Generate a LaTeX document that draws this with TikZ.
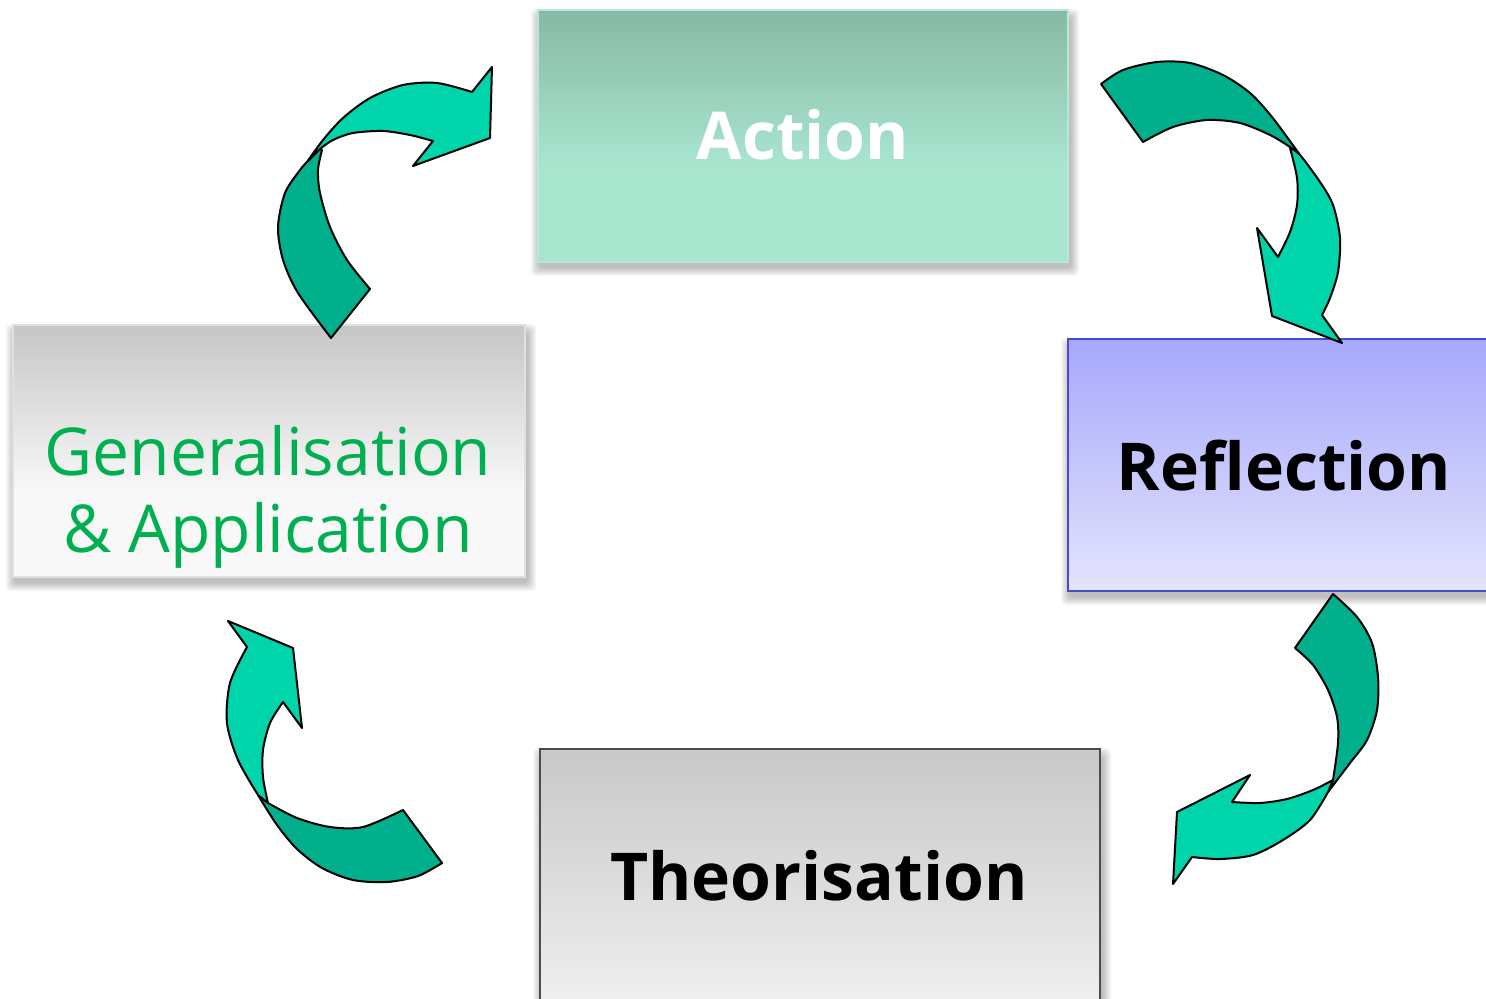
\documentclass[tikz,border=0pt]{standalone}
\usepackage{fontspec}
\setmainfont{Open Sans}
\definecolor{lightarr}{RGB}{0,212,170}
\definecolor{darkarr}{RGB}{0,176,140}
\definecolor{acttop}{RGB}{135,185,164}
\definecolor{actbot}{RGB}{168,229,207}
\definecolor{refltop}{RGB}{166,168,251}
\definecolor{reflbot}{RGB}{228,228,253}
\definecolor{refldraw}{RGB}{74,74,207}
\definecolor{gentop}{RGB}{198,198,198}
\definecolor{genbot}{RGB}{248,248,248}
\definecolor{thetop}{RGB}{200,200,200}
\definecolor{thebot}{RGB}{240,240,240}
\definecolor{gentext}{RGB}{0,176,80}
\newcommand\mysoftshadow[4]{%
  \foreach \k in {0,...,8}{%
    \fill[black, opacity=0.03, rounded corners=2pt] (#1+1-\k,#2+7-\k) rectangle (#3+3+\k,#4+6+\k);
  }}
\tikzset{
  lightpart/.style={fill=lightarr, draw=black, line width=1pt, line join=round},
  darkpart/.style={fill=darkarr, draw=black, line width=1pt, line join=round},
  bigtext/.style={font=\fontsize{33}{40}\selectfont, anchor=base, inner sep=0pt},
}
\begin{document}
\begin{tikzpicture}[x=0.5pt,y=-0.5pt]
\useasboundingbox (0,0) rectangle (1486,999);
\clip (0,0) rectangle (1486,999);

% shadows
\mysoftshadow{538}{10}{1068}{262}
\mysoftshadow{1068}{339}{1500}{591}
\mysoftshadow{540}{749}{1100}{1010}
\mysoftshadow{13}{325}{525}{577}

% boxes
\fill[actbot] (538,10) rectangle (1068,262);
\shade[top color=acttop, bottom color=actbot] (538,10) rectangle (1068,165);
\draw[actbot!85!white, line width=0.75pt] (538,10) rectangle (1068,262);

\shade[top color=refltop, bottom color=reflbot] (1068,339) rectangle (1500,591);
\draw[refldraw, line width=0.75pt] (1068,339) rectangle (1500,591);

\shade[top color=thetop, bottom color=thebot] (540,749) rectangle (1100,1010);
\draw[black!70, line width=0.75pt] (540,749) rectangle (1100,1010);

\fill[genbot] (13,325) rectangle (525,577);
\shade[top color=gentop, bottom color=genbot] (13,325) rectangle (525,490);
\draw[black!12, line width=0.75pt] (13,325) rectangle (525,577);

% texts
\node[bigtext, text=white, font=\fontsize{33}{40}\selectfont\bfseries] (action) at (803,160) {Action};
\node[bigtext, text=black, font=\fontsize{33}{40}\selectfont\bfseries] (reflection) at (1284,490) {Reflection};
\node[bigtext, text=black, font=\fontsize{33}{40}\selectfont\bfseries] (theorisation) at (819,900) {Theorisation};
\node[bigtext, text=gentext] (gen1) at (268,475) {Generalisation};
\node[bigtext, text=gentext] (gen2) at (268,552) {\& Application};

% arrow 1: Generalisation -> Action
\path[darkpart] plot[smooth] coordinates {(331,338) (298,293) (283,260) (278,227) (285,193) (300,170) (307,162)}
  -- (312,157) -- (320,149)
  -- plot[smooth] coordinates {(322,150) (318,170) (320,193) (330,227) (347,260) (370,289)} -- cycle;
\path[lightpart] plot[smooth] coordinates {(307,162) (323,140) (343,118) (370,98) (403,85) (437,83) (472,92)}
  -- (492,67) -- (490,138) -- (413,166) -- (433,141)
  -- plot[smooth] coordinates {(433,141) (410,135) (383,131) (353,133) (333,140) (320,149) (312,157)} -- cycle;

% arrow 2: Action -> Reflection
\path[darkpart] plot[smooth] coordinates {(1101,84) (1123,70) (1157,62) (1190,63) (1223,75) (1250,93) (1272,117) (1300,155)}
  -- plot[smooth] coordinates {(1300,155) (1290,147) (1270,135) (1240,123) (1207,120) (1173,127) (1143,142)} -- cycle;
\path[lightpart] plot[smooth] coordinates {(1290,148) (1300,155) (1320,182) (1333,205) (1340,238) (1338,272) (1330,298) (1322,315)}
  -- (1342,343) -- (1272,316) -- (1257,228) -- (1278,257)
  -- plot[smooth] coordinates {(1278,257) (1290,232) (1297,205) (1297,178) (1290,148)} -- cycle;

% arrow 3: Reflection -> Theorisation
\path[darkpart] plot[smooth] coordinates {(1333,594) (1357,617) (1372,643) (1378,677) (1377,710) (1367,740) (1350,763) (1328,792)}
  -- (1333,780)
  -- plot[smooth] coordinates {(1333,780) (1338,743) (1337,717) (1328,690) (1313,665) (1295,648)} -- cycle;
\path[lightpart] (1250,775) -- (1232,802)
  -- plot[smooth] coordinates {(1232,802) (1260,803) (1287,799) (1313,790) (1333,780)}
  -- (1328,792)
  -- plot[smooth] coordinates {(1328,792) (1310,820) (1283,840) (1253,855) (1220,859) (1192,857)}
  -- (1173,884) -- (1177,812) -- cycle;

% arrow 4: Theorisation -> Generalisation
\path[darkpart] (403,810) -- (442,863)
  -- plot[smooth] coordinates {(442,863) (418,876) (387,882) (353,880) (322,868) (297,849) (277,825) (258,795)}
  -- (268,803)
  -- plot[smooth] coordinates {(268,803) (297,818) (330,827) (363,827) (403,810)} -- cycle;
\path[lightpart] plot[smooth] coordinates {(258,795) (238,760) (227,723) (230,683) (247,647)}
  -- (228,621) -- (293,648) -- (302,728) -- (283,702)
  -- plot[smooth] coordinates {(283,702) (270,723) (263,750) (263,777) (268,803)} -- cycle;
\end{tikzpicture}
\end{document}
